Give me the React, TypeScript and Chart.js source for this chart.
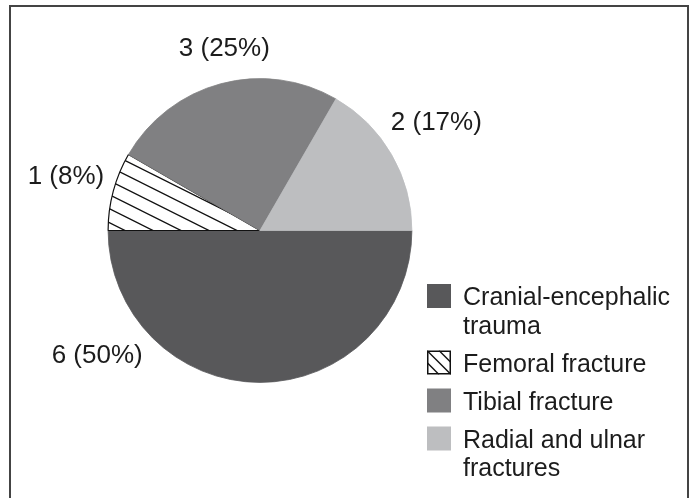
import React, { useEffect, useRef } from "react";
import { Chart, registerables } from "chart.js";

Chart.register(...registerables);

// ---- data ----
const categories = [
  "Cranial-encephalic trauma",
  "Femoral fracture",
  "Tibial fracture",
  "Radial and ulnar fractures",
];
const counts = [6, 1, 3, 2];
const sliceColors = ["#58585a", "hatch", "#808082", "#bdbec0"];

// label placement (angle tweak in degrees, distance beyond outer radius in px)
const labelAngleShift = [53, 1, 4, -2];
const labelExtraRadius = [52, 50, 35, 56];

const FONT = '"Liberation Sans", Arial, Helvetica, sans-serif';
const TEXT_COLOR = "#1c1c1c";

function makeHatch(ctx: CanvasRenderingContext2D): CanvasPattern | string {
  const tile = document.createElement("canvas");
  tile.width = 28;
  tile.height = 14;
  const t = tile.getContext("2d");
  if (!t) return "#fff";
  t.fillStyle = "#ffffff";
  t.fillRect(0, 0, 28, 14);
  t.strokeStyle = "#111";
  t.lineWidth = 1.3;
  for (const off of [-14, 0, 14]) {
    t.beginPath();
    t.moveTo(-2, off - 1);
    t.lineTo(30, off + 15);
    t.stroke();
  }
  return ctx.createPattern(tile, "repeat") || "#fff";
}

function wrapText(ctx: CanvasRenderingContext2D, text: string, maxW: number): string[] {
  const words = text.split(" ");
  const lines: string[] = [];
  let cur = "";
  for (const w of words) {
    const test = cur ? cur + " " + w : w;
    if (ctx.measureText(test).width > maxW && cur) {
      lines.push(cur);
      cur = w;
    } else cur = test;
  }
  if (cur) lines.push(cur);
  return lines;
}

const framePlugin = {
  id: "frame",
  beforeDraw(chart: any) {
    const ctx = chart.ctx as CanvasRenderingContext2D;
    ctx.save();
    ctx.fillStyle = "#fff";
    ctx.fillRect(0, 0, chart.width, chart.height);
    ctx.strokeStyle = "#444";
    ctx.lineWidth = 2;
    ctx.strokeRect(10, 6, 678, chart.height + 20);
    ctx.restore();
  },
};

const labelsLegendPlugin = {
  id: "labelsLegend",
  afterDraw(chart: any) {
    const ctx = chart.ctx as CanvasRenderingContext2D;
    const meta = chart.getDatasetMeta(0);
    const data: number[] = chart.data.datasets[0].data;
    const total = data.reduce((a: number, b: number) => a + b, 0);
    ctx.save();
    // value labels
    const fs = 26;
    ctx.font = `${fs}px ${FONT}`;
    ctx.fillStyle = TEXT_COLOR;
    ctx.textAlign = "center";
    ctx.textBaseline = "alphabetic";
    meta.data.forEach((arc: any, i: number) => {
      const mid = (arc.startAngle + arc.endAngle) / 2 + (labelAngleShift[i] * Math.PI) / 180;
      const r = arc.outerRadius + labelExtraRadius[i];
      const cx = arc.x + Math.cos(mid) * r;
      const cy = arc.y + Math.sin(mid) * r;
      const pct = Math.round((data[i] / total) * 100);
      ctx.fillText(`${data[i]} (${pct}%)`, cx, cy + fs * 0.36);
    });

    // legend
    const lfs = 25;
    ctx.font = `${lfs}px ${FONT}`;
    ctx.textAlign = "left";
    const boxX = 427;
    const boxSize = 24;
    const textX = 463;
    const lineH = 28.5;
    const entryStep = 38;
    let baseline = 305;
    const colors = chart.data.datasets[0].backgroundColor;
    categories.forEach((cat, i) => {
      const lines = wrapText(ctx, cat, 220);
      const top = baseline - 21;
      if (sliceColors[i] === "hatch") {
        ctx.save();
        ctx.fillStyle = "#fff";
        ctx.fillRect(boxX, top, boxSize, boxSize);
        ctx.beginPath();
        ctx.rect(boxX, top, boxSize, boxSize);
        ctx.clip();
        ctx.strokeStyle = "#111";
        ctx.lineWidth = 1.3;
        for (const c of [-12, 0, 12]) {
          ctx.beginPath();
          ctx.moveTo(boxX + c, top);
          ctx.lineTo(boxX + c + boxSize, top + boxSize);
          ctx.stroke();
        }
        ctx.restore();
        ctx.strokeStyle = "#111";
        ctx.lineWidth = 1.5;
        ctx.strokeRect(boxX + 0.75, top + 0.75, boxSize - 1.5, boxSize - 1.5);
      } else {
        ctx.fillStyle = colors[i];
        ctx.fillRect(boxX, top, boxSize, boxSize);
      }
      ctx.fillStyle = TEXT_COLOR;
      lines.forEach((ln, k) => {
        ctx.fillText(ln, textX, baseline + k * lineH);
      });
      baseline += (lines.length - 1) * lineH + entryStep;
    });
    ctx.restore();
  },
};

export default function App() {
  const ref = useRef<HTMLCanvasElement | null>(null);
  useEffect(() => {
    const canvas = ref.current;
    if (!canvas) return;
    const ctx = canvas.getContext("2d");
    if (!ctx) return;
    const hatch = makeHatch(ctx);
    const bg = sliceColors.map((c) => (c === "hatch" ? hatch : c));
    const borders = sliceColors.map((c) => (c === "hatch" ? "#111" : c));
    const chart = new Chart(ctx, {
      type: "pie",
      data: {
        labels: categories,
        datasets: [
          {
            data: counts,
            backgroundColor: bg as any,
            borderColor: borders,
            borderWidth: [0.8, 1.2, 0.8, 0.8],
            hoverOffset: 0,
          },
        ],
      },
      options: {
        responsive: false,
        animation: false,
        rotation: 90,
        layout: { padding: { left: 107.5, right: 279.5, top: 78, bottom: 115 } },
        plugins: {
          legend: { display: false },
          tooltip: { enabled: false },
        },
        events: [],
      },
      plugins: [framePlugin, labelsLegendPlugin],
    });
    return () => chart.destroy();
  }, []);
  return (
    <div style={{ position: "fixed", left: 0, top: 0, width: 692, height: 498, background: "#fff" }}>
      <canvas ref={ref} width={692} height={498} style={{ width: 692, height: 498, display: "block" }} />
    </div>
  );
}
